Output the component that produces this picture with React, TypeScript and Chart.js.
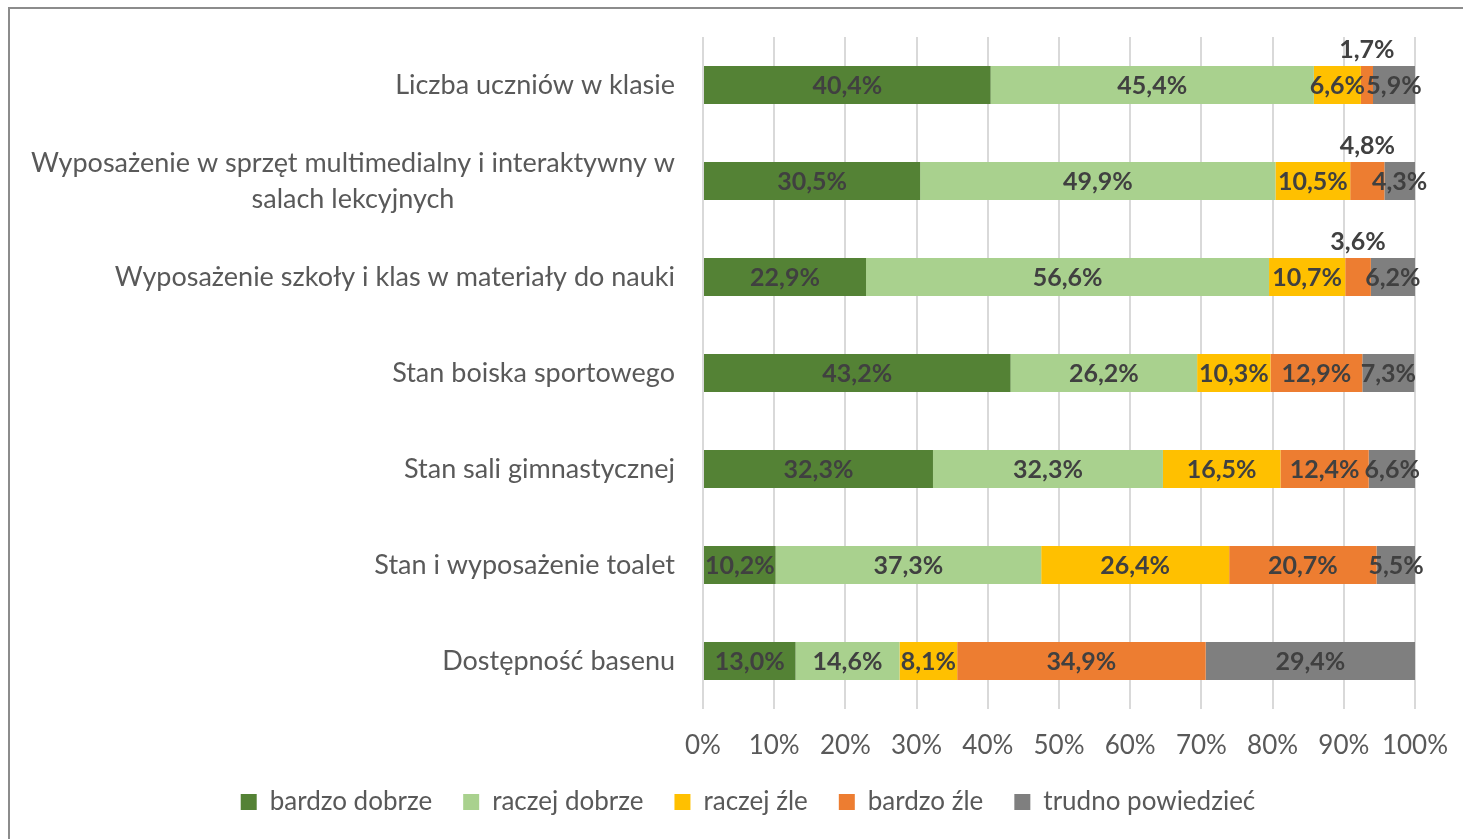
import React, { useEffect, useRef } from 'react';
import { Chart, registerables } from 'chart.js';
Chart.register(...registerables);

const categories: (string | string[])[] = [
  'Liczba uczniów w klasie',
  ['Wyposażenie w sprzęt multimedialny i interaktywny w', 'salach lekcyjnych'],
  'Wyposażenie szkoły i klas w materiały do nauki',
  'Stan boiska sportowego',
  'Stan sali gimnastycznej',
  'Stan i wyposażenie toalet',
  'Dostępność basenu',
];

const seriesNames = ['bardzo dobrze', 'raczej dobrze', 'raczej źle', 'bardzo źle', 'trudno powiedzieć'];
const bardzoDobrze = [40.4, 30.5, 22.9, 43.2, 32.3, 10.2, 13.0];
const raczejDobrze = [45.4, 49.9, 56.6, 26.2, 32.3, 37.3, 14.6];
const raczejZle = [6.6, 10.5, 10.7, 10.3, 16.5, 26.4, 8.1];
const bardzoZle = [1.7, 4.8, 3.6, 12.9, 12.4, 20.7, 34.9];
const trudnoPowiedziec = [5.9, 4.3, 6.2, 7.3, 6.6, 5.5, 29.4];
const xTickValues = [0, 10, 20, 30, 40, 50, 60, 70, 80, 90, 100];

const colors = ['#548235', '#A9D18E', '#FFC000', '#ED7D31', '#7F7F7F'];
// labels that are drawn above the bar: [datasetIndex, categoryIndex]
const labelsAbove: [number, number][] = [[3, 0], [3, 1], [3, 2]];

const FONT = 'Lato';

const fmt = (v: number) => v.toFixed(1).replace('.', ',') + '%';

const dataLabelPlugin = {
  id: 'dataLabels',
  afterDatasetsDraw(chart: any) {
    const ctx = chart.ctx;
    ctx.save();
    ctx.font = `bold 25px ${FONT}`;
    ctx.fillStyle = '#404040';
    ctx.textAlign = 'center';
    ctx.textBaseline = 'middle';
    chart.data.datasets.forEach((ds: any, di: number) => {
      const meta = chart.getDatasetMeta(di);
      meta.data.forEach((bar: any, i: number) => {
        const v = ds.data[i];
        const cx = (bar.x + bar.base) / 2;
        let cy = bar.y;
        if (labelsAbove.some(([a, b]) => a === di && b === i)) {
          cy = bar.y - bar.height / 2 - 17;
        }
        ctx.fillText(fmt(v), cx, cy + 1);
      });
    });
    ctx.restore();
  },
};

const categoryLabelPlugin = {
  id: 'categoryLabels',
  afterDraw(chart: any) {
    const ctx = chart.ctx;
    const yScale = chart.scales.y;
    const right = chart.chartArea.left - 28;
    ctx.save();
    ctx.font = `27px ${FONT}`;
    ctx.fillStyle = '#595959';
    ctx.textBaseline = 'middle';
    const lh = 36;
    categories.forEach((lab, i) => {
      const lines = Array.isArray(lab) ? lab : [lab];
      const cy = yScale.getPixelForValue(i);
      const maxW = Math.max(...lines.map((l) => ctx.measureText(l).width));
      const y0 = cy - ((lines.length - 1) * lh) / 2;
      lines.forEach((line, k) => {
        if (lines.length > 1) {
          ctx.textAlign = 'center';
          ctx.fillText(line, right - maxW / 2, y0 + k * lh);
        } else {
          ctx.textAlign = 'right';
          ctx.fillText(line, right, y0 + k * lh);
        }
      });
    });
    ctx.restore();
  },
};

export default function App() {
  const ref = useRef<HTMLCanvasElement>(null);
  useEffect(() => {
    const seriesData = [bardzoDobrze, raczejDobrze, raczejZle, bardzoZle, trudnoPowiedziec];
    const chart = new Chart(ref.current!, {
      type: 'bar',
      data: {
        labels: categories.map((c) => (Array.isArray(c) ? c.join(' ') : c)),
        datasets: seriesNames.map((name, i) => ({
          label: name,
          data: seriesData[i],
          backgroundColor: colors[i],
          borderWidth: 0,
          categoryPercentage: 1,
          barPercentage: 0.396,
        })),
      },
      options: {
        indexAxis: 'y',
        responsive: false,
        animation: false,
        events: [],
        layout: { padding: { left: 0, right: 0, top: 28, bottom: 24 } },
        scales: {
          x: {
            stacked: true,
            min: 0,
            max: 100,
            afterBuildTicks: (scale: any) => {
              scale.ticks = xTickValues.map((v) => ({ value: v }));
            },
            afterFit: (s: any) => {
              s.height = 49;
            },
            grid: { color: '#D9D9D9', lineWidth: 2, drawTicks: false },
            border: { display: false },
            ticks: {
              padding: 21,
              autoSkip: false,
              maxRotation: 0,
              minRotation: 0,
              color: '#595959',
              font: { family: FONT, size: 26 },
              callback: (v: any) => v + '%',
            },
          },
          y: {
            stacked: true,
            display: true,
            grid: { display: false },
            border: { display: false },
            ticks: { display: false },
            afterFit: (s: any) => {
              s.width = 693;
            },
          },
          yRight: {
            type: 'linear',
            position: 'right',
            display: true,
            grid: { display: false },
            border: { display: false },
            ticks: { display: false },
            afterFit: (s: any) => {
              s.width = 71;
            },
          },
        },
        plugins: {
          legend: {
            position: 'bottom',
            labels: {
              boxWidth: 16,
              boxHeight: 16,
              padding: 31,
              color: '#595959',
              font: { family: FONT, size: 26 },
            },
          },
          tooltip: { enabled: false },
        },
      },
      plugins: [dataLabelPlugin, categoryLabelPlugin],
    });
    return () => chart.destroy();
  }, []);
  return (
    <div
      style={{
        position: 'fixed',
        left: 8,
        top: 7,
        width: 1476,
        height: 840,
        border: '2px solid #8c8c8c',
        background: '#fff',
      }}
    >
      <canvas ref={ref} width={1476} height={840} style={{ display: 'block' }} />
    </div>
  );
}
